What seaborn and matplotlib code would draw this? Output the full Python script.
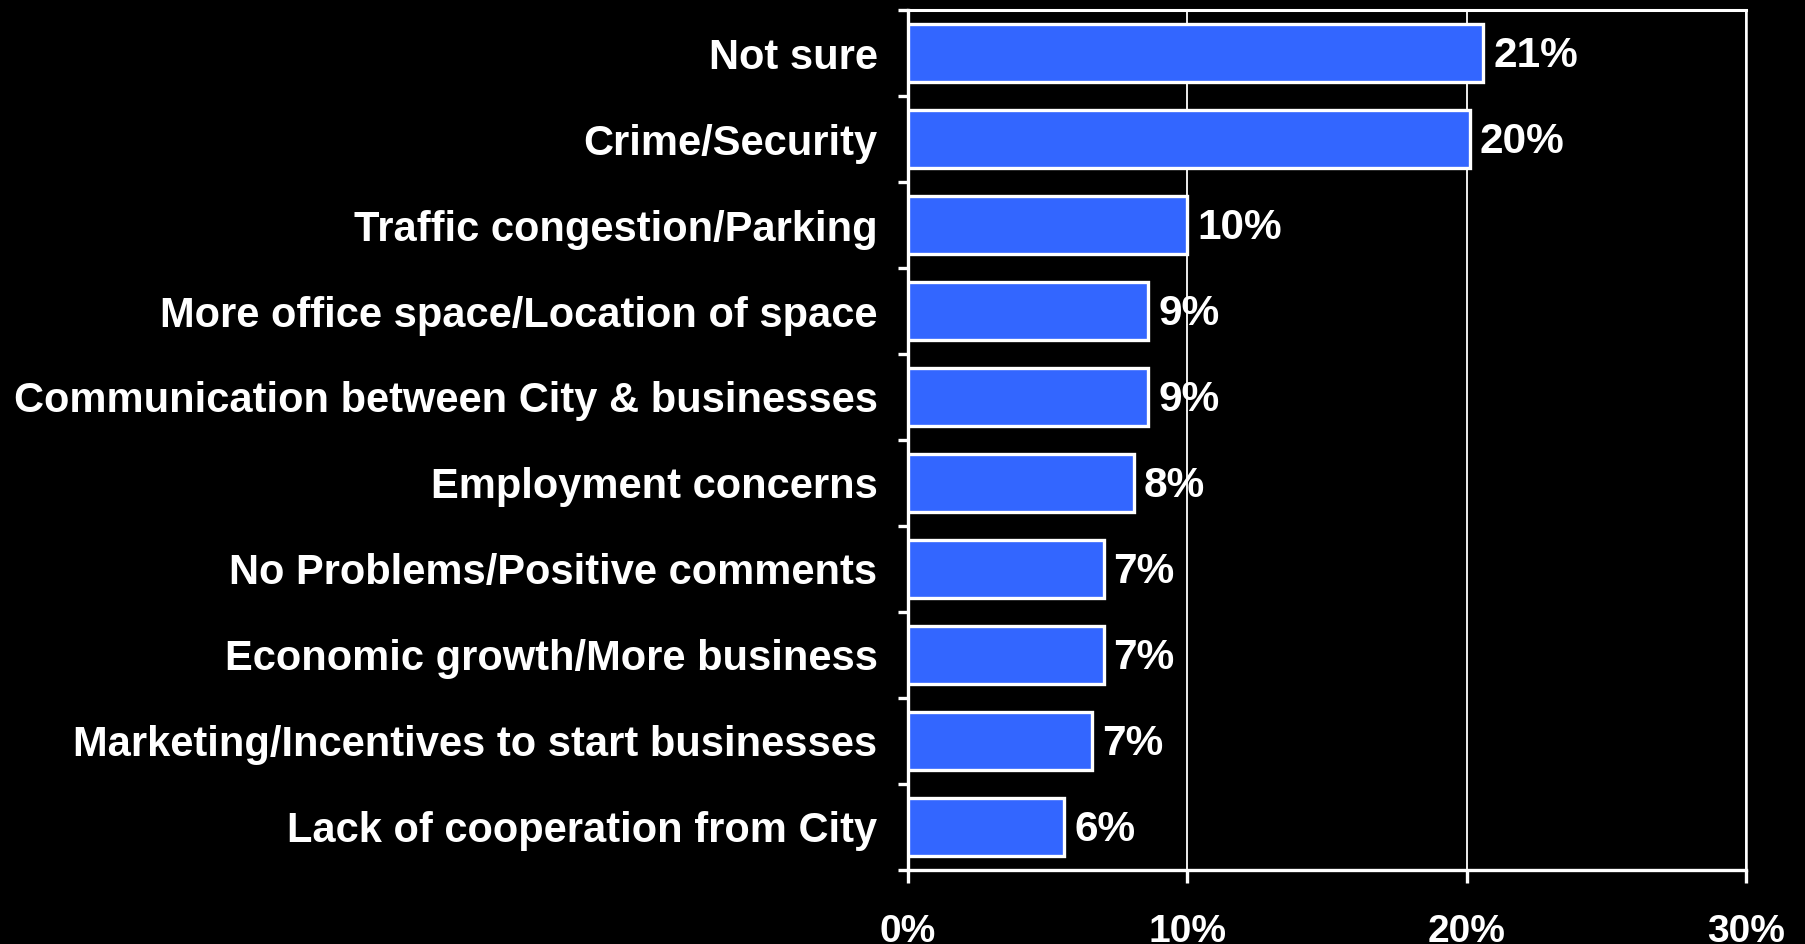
import numpy as np
import pandas as pd
import matplotlib
matplotlib.use("Agg")
import matplotlib.pyplot as plt
import seaborn as sns

# Survey responses: share of businesses naming each issue (percent)
categories = [
    "Not sure",
    "Crime/Security",
    "Traffic congestion/Parking",
    "More office space/Location of space",
    "Communication between City & businesses",
    "Employment concerns",
    "No Problems/Positive comments",
    "Economic growth/More business",
    "Marketing/Incentives to start businesses",
    "Lack of cooperation from City",
]
values = [20.6, 20.1, 10.0, 8.6, 8.6, 8.1, 7.0, 7.0, 6.6, 5.6]
x_ticks = [0, 10, 20, 30]
x_tick_labels = ["0%", "10%", "20%", "30%"]

df = pd.DataFrame({"issue": categories, "pct": values})

sns.set_theme(style="ticks")
plt.rcParams["font.family"] = ["Liberation Sans", "DejaVu Sans"]
plt.rcParams["font.weight"] = "bold"

fig = plt.figure(figsize=(18.06, 9.44), dpi=100, facecolor="black")
ax = fig.add_axes([0.5028, 0.0784, 0.9668 - 0.5028, 0.9894 - 0.0784])
ax.set_facecolor("black")

sns.barplot(data=df, x="pct", y="issue", orient="h", color="#3366FF",
            saturation=1, edgecolor="white", linewidth=2.4, width=0.68,
            ax=ax, zorder=3)

ax.set_xlim(0, 30)
ax.set_xticks(x_ticks)
ax.set_xticklabels(x_tick_labels)
ax.set_xlabel("")
ax.set_ylabel("")

# vertical grid lines
ax.xaxis.grid(True, color="white", linewidth=1.3, zorder=0)
ax.yaxis.grid(False)
ax.set_axisbelow(True)

# frame
for side in ["left", "bottom", "top", "right"]:
    ax.spines[side].set_visible(True)
    ax.spines[side].set_color("white")
ax.spines["left"].set_linewidth(2.4)
ax.spines["bottom"].set_linewidth(2.4)
ax.spines["top"].set_linewidth(2.2)
ax.spines["right"].set_linewidth(1.8)

# category labels at bar centres, tick marks at category boundaries
ax.tick_params(axis="y", which="major", length=0, pad=22, labelsize=30,
               labelcolor="white")
ax.set_yticks(np.arange(-0.5, len(categories), 1), minor=True)
ax.tick_params(axis="y", which="minor", length=7, width=2.4, color="white",
               direction="out")
ax.tick_params(axis="x", which="major", length=9.5, width=2.4, color="white",
               pad=22, labelsize=28, labelcolor="white")
for lbl in ax.get_yticklabels() + ax.get_xticklabels():
    lbl.set_fontweight("bold")

# value labels
for i, v in enumerate(values):
    ax.text(v + 0.35, i + 0.03, f"{v:.0f}%", color="white", fontsize=30.5,
            fontweight="bold", va="center", ha="left", zorder=4)

fig.savefig("out.png", dpi=100, facecolor="black")
